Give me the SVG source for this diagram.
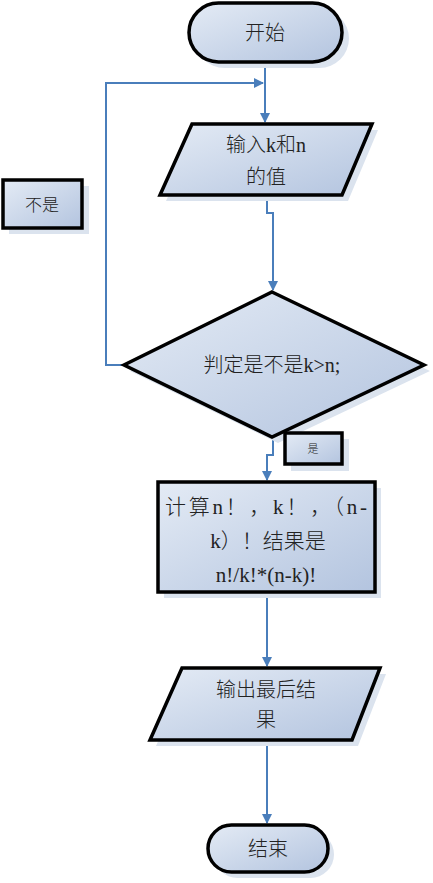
<svg xmlns="http://www.w3.org/2000/svg" width="433" height="883" viewBox="0 0 433 883">
<defs>
<linearGradient id="g" x1="0" y1="0" x2="1" y2="1">
<stop offset="0" stop-color="#e4ebf5"/>
<stop offset="1" stop-color="#b3c4df"/>
</linearGradient>
<marker id="arr" markerWidth="10" markerHeight="10" refX="9" refY="5" orient="auto" markerUnits="userSpaceOnUse">
<path d="M0,0 L10,5 L0,10 Z" fill="#4a7ebb"/>
</marker>
</defs>
<style>
.shape{fill:url(#g);stroke:#000;stroke-width:3.5;stroke-linejoin:miter}
.shadow{fill:#dbe3ee;stroke:none}
.t{font-family:"Liberation Serif","Noto Sans CJK SC",serif;font-size:20px;font-weight:300;fill:#222;text-anchor:middle}
.c{fill:none;stroke:#4a7ebb;stroke-width:2}
</style>
<rect width="433" height="883" fill="#fff"/>
<g id="connectors">
<path class="c" d="M265,63 L265,122" marker-end="url(#arr)"/>
<path class="c" d="M124,365 L106,365 L106,83 L263,83" marker-end="url(#arr)"/>
<path class="c" d="M267,196 L267,213 L273,213 L273,290" marker-end="url(#arr)"/>
<path class="c" d="M273,438 L273,455 L267,455 L267,480" marker-end="url(#arr)"/>
<path class="c" d="M267,593 L267,666" marker-end="url(#arr)"/>
<path class="c" d="M267,741 L267,823" marker-end="url(#arr)"/>
</g>
<g id="start">
<rect class="shadow" x="195" y="9" width="154" height="59" rx="29.5"/>
<rect class="shape" x="189" y="3" width="153" height="59" rx="29.5"/>
<text class="t" x="265" y="40">开始</text>
</g>
<g id="input">
<polygon class="shadow" points="198,130 378,130 348,201 166,201"/>
<polygon class="shape" points="192,124 372,124 342,195 160,195"/>
<text class="t" x="266" y="152">输入k和n</text>
<text class="t" x="266" y="184">的值</text>
</g>
<g id="notlabel">
<rect class="shadow" x="9" y="186" width="80" height="48"/>
<rect class="shape" x="3" y="180" width="79" height="48"/>
<text class="t" x="42" y="211" style="font-size:17px">不是</text>
</g>
<g id="decision">
<polygon class="shadow" points="278,298 430,371 278,443 130,371"/>
<polygon class="shape" points="272,292 424,365 272,437 124,365"/>
<text class="t" x="272" y="372">判定是不是k&gt;n;</text>
</g>
<g id="yeslabel">
<rect class="shadow" x="291" y="439" width="58" height="32"/>
<rect class="shape" x="285" y="433" width="57" height="31"/>
<text class="t" x="313" y="453" style="font-size:11px">是</text>
</g>
<g id="process">
<rect class="shadow" x="164" y="488" width="217" height="110"/>
<rect class="shape" x="158" y="482" width="217" height="110"/>
<text class="t" x="266" y="514" style="font-size:21px" textLength="202" lengthAdjust="spacing">计算n！，k！，（n-</text>
<text class="t" x="268" y="548" style="font-size:21px">k）！结果是</text>
<text class="t" x="266" y="582" style="font-size:21px">n!/k!*(n-k)!</text>
</g>
<g id="output">
<polygon class="shadow" points="188,674 386,674 358,746 156,746"/>
<polygon class="shape" points="182,668 380,668 352,740 150,740"/>
<text class="t" x="266" y="697">输出最后结</text>
<text class="t" x="266" y="727">果</text>
</g>
<g id="end">
<rect class="shadow" x="214" y="831" width="120" height="47" rx="23.5"/>
<rect class="shape" x="208" y="825" width="120" height="47" rx="23.5"/>
<text class="t" x="268" y="856">结束</text>
</g>
</svg>
